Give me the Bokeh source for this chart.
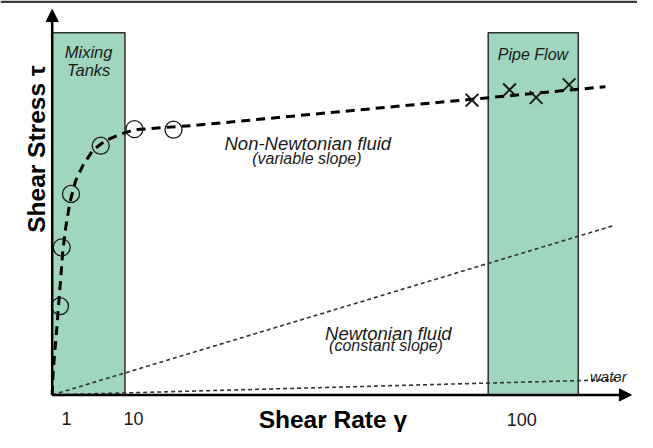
from math import pi
from bokeh.plotting import figure
from bokeh.models import Range1d, Arrow, NormalHead, Span
from bokeh.core.properties import value
from bokeh.embed import file_html
from bokeh.resources import INLINE

# ---- data (schematic units: shear rate position 0..100, shear stress 0..100) ----
zone_names = ["Mixing\nTanks", "Pipe Flow"]
zone_left = [0.0, 75.5]
zone_right = [12.6, 91.1]
zone_top = [93.9, 93.9]

# Non-Newtonian (shear-thinning) fitted curve
curve_x = [0.0, 0.17, 0.51, 0.84, 1.18, 1.52, 1.86, 2.36, 3.04, 4.05, 5.41, 7.09,
           9.29, 11.66, 14.19, 24.83, 95.78]
curve_y = [0.0, 6.0, 12.25, 18.0, 24.75, 31.0, 37.75, 43.5, 49.75, 55.5, 59.75, 63.5,
           66.0, 67.5, 68.75, 69.9, 79.9]

# measured points: mixing-tank range (circles) and pipe-flow range (crosses)
circle_x = [1.35, 1.65, 3.25, 8.4, 14.25, 21.0]
circle_y = [23.0, 38.25, 52.1, 64.6, 68.9, 68.75]
cross_x = [72.7, 79.2, 83.8, 89.5]
cross_y = [76.4, 79.1, 77.1, 80.4]

# Newtonian fluids (constant slope)
newton_x = [0.0, 97.0]
newton_y = [0.0, 43.8]
water_x = [0.0, 98.5]
water_y = [0.0, 4.0]

# x tick positions and labels (schematic, not to scale)
tick_x = [2.5, 14.1, 81.3]
tick_labels = ["1", "10", "100"]

FONT = value("Liberation Sans")

p = figure(width=637, height=432, output_backend="svg", toolbar_location=None,
           x_range=Range1d(-8.95, 101.35), y_range=Range1d(-9.75, 102.25),
           min_border=0, min_border_left=0, min_border_right=0,
           min_border_top=0, min_border_bottom=0)
p.axis.visible = False
p.grid.visible = False
p.outline_line_color = None
p.background_fill_color = "white"
p.border_fill_color = "white"

# page rule at top
p.add_layout(Span(location=101.9, dimension="width", line_color="#3a3a3a", line_width=2.5))

# operating zones
p.quad(left=zone_left, right=zone_right, bottom=[0, 0], top=zone_top,
       fill_color="#a0d6be", line_color="#2e2e2e", line_width=1.5)

# Newtonian lines
p.line(newton_x, newton_y, line_color="#333333", line_width=1.6, line_dash="4 3")
p.line(water_x, water_y, line_color="#333333", line_width=1.6, line_dash="4 3")

# Non-Newtonian curve
p.line(curve_x, curve_y, line_color="black", line_width=3, line_dash="9 6")

p.scatter(circle_x, circle_y, marker="circle", size=17, fill_color=None,
          line_color="#1a1a1a", line_width=1.3)
p.scatter(cross_x, cross_y, marker="x", size=18, line_color="#1a1a1a", line_width=2)

# axes as arrows
p.add_layout(Arrow(end=NormalHead(size=12, fill_color="black", line_color="black"),
                   x_start=0, y_start=0, x_end=100.3, y_end=0,
                   line_width=2.5, line_color="black"))
p.add_layout(Arrow(end=NormalHead(size=12, fill_color="black", line_color="black"),
                   x_start=0, y_start=0, x_end=0, y_end=99.9,
                   line_width=2.5, line_color="black"))

# zone titles
p.text(x=[6.31, 6.31], y=[89.0, 84.25], text=["Mixing", "Tanks"],
       text_font=FONT, text_font_style="italic", text_font_size="16.5px",
       text_align="center", text_baseline="alphabetic", text_color="#1a1a1a")
p.text(x=[83.25], y=[88.3], text=["Pipe Flow"],
       text_font=FONT, text_font_style="italic", text_font_size="16px",
       text_align="center", text_baseline="alphabetic", text_color="#1a1a1a")

# curve annotations
p.text(x=[44.26, 58.2], y=[65.2, 16.0], text=["Non-Newtonian fluid", "Newtonian fluid"],
       text_font=FONT, text_font_style="italic", text_font_size="18.5px",
       text_align="center", text_baseline="alphabetic", text_color="#1a1a1a")
p.text(x=[44.1, 57.8], y=[61.4, 12.7], text=["(variable slope)", "(constant slope)"],
       text_font=FONT, text_font_style="italic", text_font_size="16px",
       text_align="center", text_baseline="alphabetic", text_color="#1a1a1a")
p.text(x=[96.3], y=[4.75], text=["water"],
       text_font=FONT, text_font_style="italic", text_font_size="15px",
       text_align="center", text_baseline="alphabetic", text_color="#1a1a1a")

# tick labels
p.text(x=tick_x, y=[-6.1, -6.1, -6.3], text=tick_labels,
       text_font=FONT, text_font_size="18px",
       text_align="center", text_baseline="alphabetic", text_color="#1a1a1a")

# axis titles
p.text(x=[48.6], y=[-6.5], text=["Shear Rate γ"],
       text_font=FONT, text_font_style="bold", text_font_size="24.5px",
       text_align="center", text_baseline="alphabetic", text_color="black")
p.text(x=[-2.75], y=[63.75], text=["Shear Stress τ"], angle=pi / 2,
       text_font=FONT, text_font_style="bold", text_font_size="24.5px",
       text_align="center", text_baseline="alphabetic", text_color="black")

open("out.html", "w").write(file_html(p, INLINE))
